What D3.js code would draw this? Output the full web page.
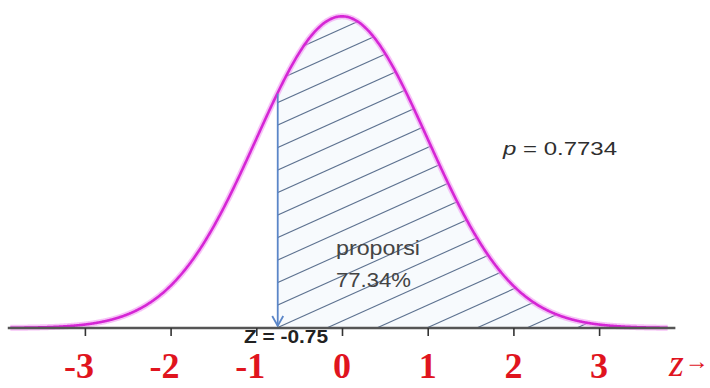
<!DOCTYPE html>
<html>
<head>
<meta charset="utf-8">
<script src="https://cdn.jsdelivr.net/npm/d3@7"></script>
<style>
  html, body { margin: 0; padding: 0; background: #ffffff; }
  svg { display: block; }
</style>
</head>
<body>
<svg id="chart" width="710" height="388"></svg>
<script>
// Standard normal distribution N(0, 1)
const distMean = [0];
const distSd = [1];
// Cut-off value and the proportion of the area to its right
const cutZ = [-0.75];
const proportion = [0.7734];
// Axis ticks and their labels
const tickValues = [-3, -2, -1, 0, 1, 2, 3];
const tickLabels = ["-3", "-2", "-1", "0", "1", "2", "3"];
// Span of the drawn curve and of the axis line (z units)
const curveRange = [-3.87, 3.8];
const axisRange = [-3.9, 3.89];

const svg = d3.select("#chart");

const x = d3.scaleLinear().domain([-4, 4]).range([-0.8, 684.8]);
const y = d3.scaleLinear().domain([0, 0.4]).range([328, 15.5]);
const axisY = y(0);

const mu = distMean[0], sd = distSd[0];
const pdf = z => Math.exp(-0.5 * ((z - mu) / sd) ** 2) / (sd * Math.sqrt(2 * Math.PI));

const zs = d3.range(curveRange[0], curveRange[1] + 1e-9, 0.01);
const curvePts = zs.map(z => [z, pdf(z)]);
const shadePts = [[cutZ[0], pdf(cutZ[0])]].concat(curvePts.filter(d => d[0] > cutZ[0]));

const line = d3.line().x(d => x(d[0])).y(d => y(d[1])).curve(d3.curveBasis);
const area = d3.area().x(d => x(d[0])).y0(axisY).y1(d => y(d[1]));

// Shaded region to the right of the cut-off
const defs = svg.append("defs");
defs.append("clipPath").attr("id", "shadeClip")
  .append("path").attr("d", area(shadePts));

svg.append("path").attr("d", area(shadePts)).attr("fill", "#f7fafd");

// Diagonal hatching inside the shaded region
const hatchStart = x(cutZ[0]) + 49;
const hatchGap = 50;
const hatchSlope = 0.45;
const hatch = svg.append("g").attr("clip-path", "url(#shadeClip)");
d3.range(-22, 10).forEach(k => {
  const x0 = hatchStart + k * hatchGap;
  hatch.append("line")
    .attr("x1", x0 - 100).attr("y1", axisY + 100 * hatchSlope)
    .attr("x2", x0 + 1200).attr("y2", axisY - 1200 * hatchSlope)
    .attr("stroke", "#5d7290").attr("stroke-width", 1.1);
});

// Normal curve with a soft magenta halo
svg.append("path").attr("d", line(curvePts))
  .attr("fill", "none").attr("stroke", "#f090f0")
  .attr("stroke-width", 6).attr("stroke-opacity", 0.55);
svg.append("path").attr("d", line(curvePts))
  .attr("fill", "none").attr("stroke", "#d526d5")
  .attr("stroke-width", 2.6);

// Arrow at the cut-off value
const ax = x(cutZ[0]);
svg.append("line")
  .attr("x1", ax).attr("y1", y(pdf(cutZ[0])) + 1)
  .attr("x2", ax).attr("y2", axisY - 2)
  .attr("stroke", "#5b86c8").attr("stroke-width", 1.8);
svg.append("path")
  .attr("d", `M${ax - 5.5},${axisY - 12} L${ax},${axisY - 2} L${ax + 5.5},${axisY - 12}`)
  .attr("fill", "none").attr("stroke", "#5b86c8").attr("stroke-width", 1.8);

// Axis line
svg.append("line")
  .attr("x1", x(axisRange[0])).attr("x2", x(axisRange[1]))
  .attr("y1", axisY).attr("y2", axisY)
  .attr("stroke", "#555555").attr("stroke-width", 2.4);

// Annotations
const sans = "'Liberation Sans', Arial, sans-serif";
const pText = svg.append("text")
  .attr("x", 503).attr("y", 155)
  .attr("font-family", sans).attr("font-size", 19)
  .attr("fill", "#2e2e2e")
  .attr("textLength", 114).attr("lengthAdjust", "spacingAndGlyphs");
pText.append("tspan").attr("font-style", "italic").text("p");
pText.append("tspan").text(" = " + proportion[0].toFixed(4));

svg.append("text")
  .attr("x", 336).attr("y", 255)
  .attr("font-family", sans).attr("font-size", 20)
  .attr("fill", "#444444")
  .attr("textLength", 84).attr("lengthAdjust", "spacingAndGlyphs")
  .text("proporsi");
svg.append("text")
  .attr("x", 336).attr("y", 287)
  .attr("font-family", sans).attr("font-size", 20)
  .attr("fill", "#444444")
  .attr("textLength", 75).attr("lengthAdjust", "spacingAndGlyphs")
  .text((proportion[0] * 100).toFixed(2) + "%");

svg.append("text")
  .attr("x", 244).attr("y", 343)
  .attr("font-family", sans).attr("font-size", 18).attr("font-weight", "bold")
  .attr("fill", "#222222")
  .attr("textLength", 84).attr("lengthAdjust", "spacingAndGlyphs")
  .text("Z = " + cutZ[0].toFixed(2));

// Tick marks
const axisG = svg.append("g")
  .attr("transform", `translate(0,${axisY})`)
  .call(d3.axisBottom(x).tickValues(tickValues).tickSize(8).tickFormat(""));
axisG.select(".domain").remove();
axisG.selectAll(".tick line").attr("stroke", "#333333").attr("stroke-width", 1.6);

// Red tick labels
const serif = "'Liberation Serif', 'Times New Roman', serif";
const labelSize = 36;
svg.append("g").selectAll("text")
  .data(tickValues)
  .join("text")
  .attr("x", d => d < 0 ? x(d) + labelSize * 0.25 : x(d))
  .attr("y", 378)
  .attr("text-anchor", d => d < 0 ? "end" : "middle")
  .attr("font-family", serif).attr("font-size", labelSize).attr("font-weight", "bold")
  .attr("fill", "#e0141e")
  .text((d, i) => tickLabels[i]);

// Axis name
const zName = svg.append("text")
  .attr("x", 669).attr("y", 376)
  .attr("font-family", serif).attr("fill", "#e0141e");
zName.append("tspan").attr("font-size", 38).attr("font-style", "italic").text("z");
zName.append("tspan").attr("font-size", 24).attr("dx", 1).attr("dy", -7).text("→");
</script>
</body>
</html>
